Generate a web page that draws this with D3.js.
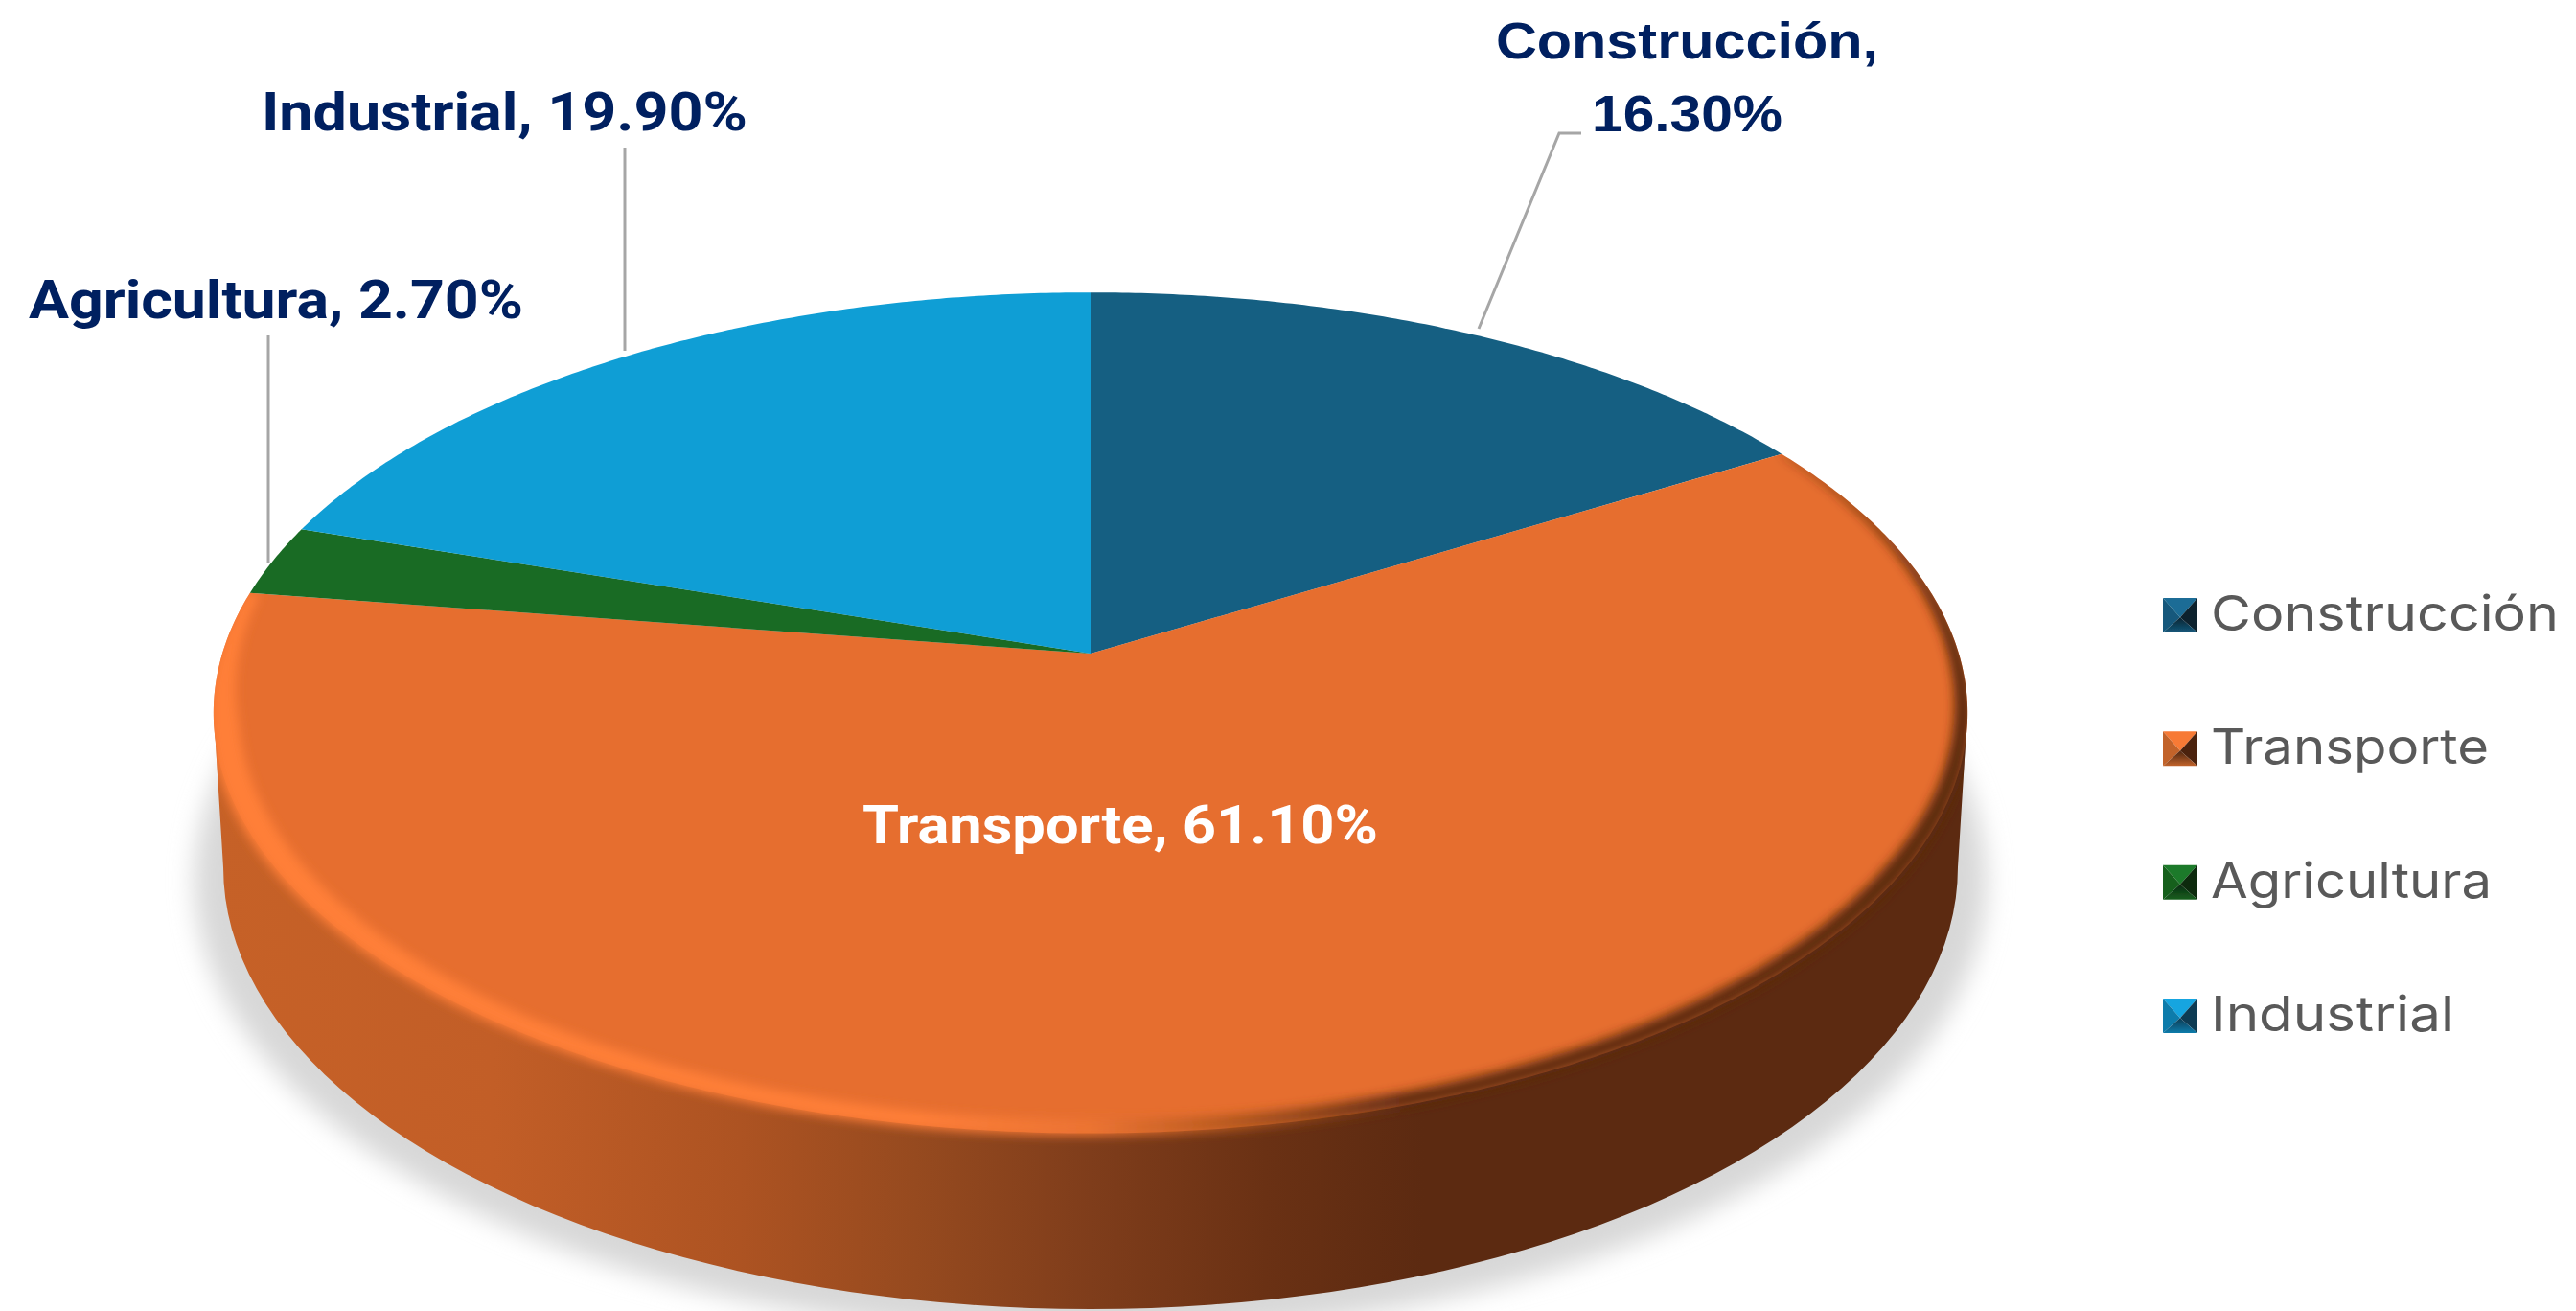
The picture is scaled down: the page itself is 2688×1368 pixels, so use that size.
<!DOCTYPE html>
<html>
	<head>
		<meta charset="utf-8">
		<title>pie3d_sectores</title>
		<script type="text/javascript" src="https://cdn.jsdelivr.net/npm/d3@7"></script>
		<style>
			body{margin:0;background:#fff;}
			svg{display:block;}
		</style>
	</head>
	<body>
		<script type="text/javascript">
			var categories=['Construcción','Transporte','Agricultura','Industrial'];
			var shares=[16.3,61.1,2.7,19.9];
			var sliceColors=['#155f82','#e66e2f','#196b24','#0f9ed5'];
			var darkColors=['#08222f','#4b2410','#0a2a10','#0a3a52'];
			var midColors=['#14597c','#c2642c','#17601f','#0f7cab'];
			var lightColors=['#1a6c96','#f77a36','#1e7a2a','#12a5e0'];

			var w=2688;
			var h=1368;

			var svg=d3.select('body').append('svg')
					  .attr('width',w)
					  .attr('height',h);
			var defs=svg.append('defs');

			// top face is a tilted circle, so the centre sits above the middle of the ellipse
			var cx=1138, cy=682, a=906, b=430, k=0.141;
			function rim(angle,r){
				var u=r*Math.sin(angle), v=-r*Math.cos(angle);
				var d=1-k*v;
				return [cx+a*u/d, cy+b*v/d];
			}
			function rimPoints(start,end,rFn){
				var n=Math.max(8,Math.ceil((end-start)*120));
				return d3.range(n+1).map(function(i){
					var t=start+(end-start)*i/n;
					return rim(t,rFn?rFn(t):1);
				});
			}
			var line=d3.line();

			var pie=d3.pie().sort(null).value(function(d,i){return shares[i];});
			var slices=pie(categories);
			var color=d3.scaleOrdinal().domain(categories).range(sliceColors);
			var transporte=slices[1];

			function slicePath(d){
				return line([[cx,cy]].concat(rimPoints(d.startAngle,d.endAngle)))+'Z';
			}

			// wall outline
			var botX=1138, botY=905, botRx=905, botRy=461;
			var wallPts=[[223,744]].concat(d3.range(0,181,2).map(function(t){
				var r=t*Math.PI/180;
				return [botX-botRx*Math.cos(r), botY+botRy*Math.sin(r)];
			})).concat([[2053,744]]);
			var wallPath=line(wallPts)+'Z';

			var wallGrad=defs.append('linearGradient').attr('id','wallGrad')
				.attr('gradientUnits','userSpaceOnUse')
				.attr('x1',223).attr('x2',2053).attr('y1',0).attr('y2',0);
			[[0,'#c66127'],[0.16,'#c25e27'],[0.3,'#ad5322'],[0.4,'#964a1f'],[0.5,'#7f3d1b'],[0.6,'#6a3114'],[0.69,'#5c2a11'],[1,'#5c2a11']]
				.forEach(function(s){
					wallGrad.append('stop').attr('offset',s[0]).attr('stop-color',s[1]);
				});

			var rimGrad=defs.append('linearGradient').attr('id','rimGrad')
				.attr('gradientUnits','userSpaceOnUse')
				.attr('x1',223).attr('x2',2053).attr('y1',0).attr('y2',0);
			[[0,'#ff7f39'],[0.4,'#ff7f39'],[0.5,'#ec7433'],[0.58,'#b4581f'],[0.68,'#5c2a11'],[1,'#5c2a11']]
				.forEach(function(s){
					rimGrad.append('stop').attr('offset',s[0]).attr('stop-color',s[1]);
				});

			defs.append('filter').attr('id','soft').attr('x','-10%').attr('y','-10%').attr('width','120%').attr('height','120%')
				.append('feGaussianBlur').attr('stdDeviation',13);
			defs.append('filter').attr('id','bevel').attr('x','-10%').attr('y','-10%').attr('width','120%').attr('height','120%')
				.append('feGaussianBlur').attr('stdDeviation',5.5);
			defs.append('filter').attr('id','tiny').attr('x','-10%').attr('y','-10%').attr('width','120%').attr('height','120%')
				.append('feGaussianBlur').attr('stdDeviation',0.7);

			var clip=defs.append('clipPath').attr('id','rimClip');
			clip.append('path').attr('d',wallPath);
			clip.append('path').attr('d',slicePath(transporte));

			// shadow, wall, top face
			svg.append('ellipse')
			   .attr('cx',botX).attr('cy',botY+14)
			   .attr('rx',botRx+30).attr('ry',botRy+14)
			   .attr('fill','#d8d8d8')
			   .attr('filter','url(#soft)');

			svg.append('path').attr('d',wallPath).attr('fill','url(#wallGrad)');

			svg.selectAll('path.slice')
			   .data(slices)
			   .enter()
			   .append('path')
			   .attr('class','slice')
			   .attr('d',slicePath)
			   .attr('fill',function(d){return color(d.data);});

			// bevel ribbon: thin near the blue slice, widest on the left front
			var deg=Math.PI/180;
			var bevelWidth=d3.scaleLinear()
				.domain([transporte.startAngle,85*deg,120*deg,180*deg,225*deg,260*deg,transporte.endAngle])
				.range([0,0.011,0.02,0.024,0.028,0.028,0.012]);
			var outer=rimPoints(transporte.startAngle,transporte.endAngle,function(){return 1.004;});
			var inner=rimPoints(transporte.startAngle,transporte.endAngle,function(t){return 1-bevelWidth(t);}).reverse();
			svg.append('g').attr('clip-path','url(#rimClip)')
			   .append('path')
			   .attr('d',line(outer.concat(inner))+'Z')
			   .attr('fill','url(#rimGrad)')
			   .attr('filter','url(#bevel)');

			// leader lines
			var leaders=[
				[[1650,139],[1627,139],[1543,343]],
				[[652,154],[652,366]],
				[[280,350],[280,587]]
			];
			svg.selectAll('path.leader')
			   .data(leaders)
			   .enter()
			   .append('path')
			   .attr('class','leader')
			   .attr('d',function(d){return line(d);})
			   .attr('fill','none')
			   .attr('stroke','#a6a6a6')
			   .attr('stroke-width',3);

			// data labels
			function pct(i){return shares[i].toFixed(2)+'%';}
			var labels=[
				{t:categories[0]+',',x:1561,y:61,len:399,font:'Liberation Sans',size:53,fill:'#002060'},
				{t:pct(0),x:1661,y:137,len:199,font:'Liberation Sans',size:53,fill:'#002060'},
				{t:categories[3]+', '+pct(3),x:273,y:136,len:507,font:'Roboto',size:56,fill:'#002060'},
				{t:categories[2]+', '+pct(2),x:30,y:332,len:516,font:'Roboto',size:56,fill:'#002060'},
				{t:categories[1]+', '+pct(1),x:900,y:880,len:538,font:'Roboto',size:56,fill:'#ffffff'}
			];
			svg.selectAll('text.label')
			   .data(labels)
			   .enter()
			   .append('text')
			   .attr('class','label')
			   .text(function(d){return d.t;})
			   .attr('x',function(d){return d.x;})
			   .attr('y',function(d){return d.y;})
			   .attr('textLength',function(d){return d.len;})
			   .attr('lengthAdjust','spacingAndGlyphs')
			   .attr('font-family',function(d){return d.font;})
			   .attr('font-size',function(d){return d.size;})
			   .attr('font-weight','bold')
			   .attr('fill',function(d){return d.fill;});

			// legend
			var legendY=d3.scalePoint().domain(categories).range([642,1060]);
			var boxX=2257, boxS=36;
			var legendLens=[363,290,293,254];

			categories.forEach(function(c,i){
				var g=defs.append('linearGradient').attr('id','keyBottom'+i)
						  .attr('x1',0).attr('x2',0).attr('y1',0).attr('y2',1);
				g.append('stop').attr('offset',0).attr('stop-color',darkColors[i]);
				g.append('stop').attr('offset',1).attr('stop-color',midColors[i]);
			});

			var legend=svg.selectAll('g.legend')
						  .data(categories)
						  .enter()
						  .append('g')
						  .attr('class','legend')
						  .attr('transform',function(d){
								return 'translate('+boxX+','+(legendY(d)-boxS/2)+')';
						  });
			var s=boxS, m=boxS/2, my=boxS*0.56;
			var key=legend.append('g').attr('filter','url(#tiny)');
			key.append('path').attr('d',line([[0,0],[s,0],[m,my]])+'Z')
				  .attr('fill',function(d,i){return lightColors[i];});
			key.append('path').attr('d',line([[0,0],[m,my],[0,s]])+'Z')
				  .attr('fill',function(d,i){return midColors[i];});
			key.append('path').attr('d',line([[s,0],[s,s],[m,my]])+'Z')
				  .attr('fill',function(d,i){return darkColors[i];});
			key.append('path').attr('d',line([[0,s],[m,my],[s,s]])+'Z')
				  .attr('fill',function(d,i){return 'url(#keyBottom'+i+')';});
			legend.append('text')
				  .text(function(d){return d;})
				  .attr('x',50)
				  .attr('y',boxS-2)
				  .attr('textLength',function(d,i){return legendLens[i];})
				  .attr('lengthAdjust','spacingAndGlyphs')
				  .attr('font-family','Inter')
				  .attr('font-size',51)
				  .attr('fill','#595959');
		</script>
	</body>
</html>
